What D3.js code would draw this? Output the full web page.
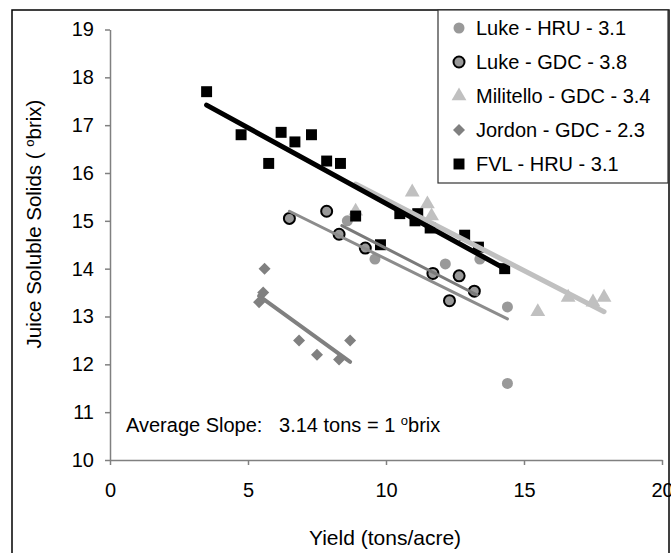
<!DOCTYPE html>
<html>
<head>
<meta charset="utf-8">
<script src="https://cdn.jsdelivr.net/npm/d3@7"></script>
<style>
  body { margin: 0; background: #fff; }
  svg { display: block; font-family: "Liberation Sans", Arial, sans-serif; }
</style>
</head>
<body>
<svg id="chart" width="671" height="553"></svg>
<script>
// series points [yield, brix]
const lukeHRU = [[8.6, 15.0], [9.6, 14.2], [12.15, 14.1], [13.4, 14.2], [14.4, 13.2], [14.4, 11.6]]
const lukeGDC = [[6.5, 15.05], [7.85, 15.2], [8.3, 14.72], [9.25, 14.43], [11.7, 13.9], [12.3, 13.33], [12.65, 13.85], [13.2, 13.53]]
const militello = [[8.9, 15.2], [10.95, 15.6], [11.5, 15.35], [11.65, 15.1], [15.5, 13.1], [16.6, 13.4], [17.5, 13.3], [17.9, 13.4]]
const jordon = [[5.4, 13.3], [5.55, 13.5], [5.6, 14.0], [6.85, 12.5], [7.5, 12.2], [8.3, 12.1], [8.7, 12.5]]
const fvl = [[3.5, 17.7], [4.75, 16.8], [5.75, 16.2], [6.2, 16.85], [6.7, 16.65], [7.3, 16.8], [7.85, 16.25], [8.35, 16.2],
  [8.9, 15.1], [9.8, 14.5], [10.5, 15.15], [11.05, 15.0], [11.15, 15.15], [11.6, 14.85], [12.85, 14.7], [13.35, 14.45], [14.3, 14.0]]

// trendline end points
const lukeHRUTrend = [[6.5, 15.2], [14.4, 12.95]]
const lukeGDCTrend = [[8.4, 14.9], [13.3, 13.45]]
const militelloTrend = [[8.9, 15.77], [17.9, 13.1]]
const jordonTrend = [[5.4, 13.43], [8.7, 12.05]]
const fvlTrend = [[3.5, 17.42], [14.4, 13.97]]

const legendLabels = ['Luke - HRU - 3.1', 'Luke - GDC - 3.8', 'Militello - GDC - 3.4', 'Jordon - GDC - 2.3', 'FVL - HRU - 3.1']
const xTicks = [0, 5, 10, 15, 20]
const yTicks = [10, 11, 12, 13, 14, 15, 16, 17, 18, 19]

let svg = d3.select('#chart')

let x = d3.scaleLinear().domain([0, 20]).range([110, 662])
let y = d3.scaleLinear().domain([10, 19]).range([460, 29.5])

// outer border
svg.append('rect')
  .attr('x', 12).attr('y', 10).attr('width', 657).attr('height', 560)
  .attr('fill', 'none').attr('stroke', '#000').attr('stroke-width', 1.5)

// axes
svg.append('g')
  .attr('transform', 'translate(0,460)')
  .call(d3.axisBottom(x).tickValues(xTicks).tickSize(5).tickSizeOuter(0).tickPadding(18))
svg.append('g')
  .attr('transform', 'translate(110,0)')
  .call(d3.axisLeft(y).tickValues(yTicks).tickSize(5).tickSizeOuter(0).tickPadding(11))

svg.selectAll('.domain, .tick line').attr('stroke', '#808080').attr('stroke-width', 1.5)
svg.selectAll('.tick text').attr('font-size', 20).attr('fill', '#000')
  .attr('font-family', '"Liberation Sans", Arial, sans-serif')

// axis titles
svg.append('text')
  .attr('x', 385).attr('y', 545)
  .attr('text-anchor', 'middle').attr('font-size', 21)
  .text('Yield (tons/acre)')

let yTitle = svg.append('text')
  .attr('transform', 'translate(41,224) rotate(-90)')
  .attr('text-anchor', 'middle').attr('font-size', 20.5)
yTitle.append('tspan').text('Juice Soluble Solids (  ')
yTitle.append('tspan').attr('font-size', 13).attr('dy', -7).text('o')
yTitle.append('tspan').attr('dy', 7).text('brix)')

// annotation
let note = svg.append('text')
  .attr('x', 126).attr('y', 432).attr('font-size', 20)
  .attr('xml:space', 'preserve')
note.append('tspan').text('Average Slope:   3.14 tons = 1 ')
note.append('tspan').attr('font-size', 13).attr('dy', -7).text('o')
note.append('tspan').attr('dy', 7).text('brix')

// marker shapes
const symCircle = d3.symbol().type(d3.symbolCircle).size(95)
const symTriangle = d3.symbol().type(d3.symbolTriangle).size(95)
const symDiamond = d3.symbol().type(d3.symbolSquare).size(72)
const symSquare = d3.symbol().type(d3.symbolSquare).size(120)

const series = [
  { data: lukeHRU, path: symCircle(), fill: '#999999', stroke: 'none', rot: 0 },
  { data: lukeGDC, path: symCircle(), fill: '#999999', stroke: '#000', rot: 0 },
  { data: militello, path: symTriangle(), fill: '#c0c0c0', stroke: 'none', rot: 0 },
  { data: jordon, path: symDiamond(), fill: '#808080', stroke: 'none', rot: 45 },
  { data: fvl, path: symSquare(), fill: '#000', stroke: 'none', rot: 0 }
]

series.forEach(function (s) {
  svg.append('g')
    .selectAll('path')
    .data(s.data)
    .enter()
    .append('path')
    .attr('d', s.path)
    .attr('transform', d => 'translate(' + x(d[0]) + ',' + y(d[1]) + ') rotate(' + s.rot + ')')
    .attr('fill', s.fill)
    .attr('stroke', s.stroke)
    .attr('stroke-width', 2)
})

// trendlines
const trends = [
  { data: lukeHRUTrend, color: '#8c8c8c', w: 3 },
  { data: lukeGDCTrend, color: '#7a7a7a', w: 3 },
  { data: militelloTrend, color: '#c0c0c0', w: 5 },
  { data: jordonTrend, color: '#808080', w: 4 },
  { data: fvlTrend, color: '#000', w: 5 }
]
let line = d3.line().x(d => x(d[0])).y(d => y(d[1]))
trends.forEach(function (t) {
  svg.append('path')
    .attr('d', line(t.data))
    .attr('fill', 'none')
    .attr('stroke', t.color)
    .attr('stroke-width', t.w)
    .attr('stroke-linecap', 'round')
})

// legend
let legend = svg.append('g')
legend.append('rect')
  .attr('x', 438).attr('y', 10).attr('width', 230).attr('height', 173)
  .attr('fill', '#fff').attr('stroke', '#333').attr('stroke-width', 1.2)

let rows = legend.selectAll('g.row')
  .data(series)
  .enter()
  .append('g')
  .attr('class', 'row')
  .attr('transform', (d, i) => 'translate(459,' + (28 + i * 34) + ')')

rows.append('path')
  .attr('d', d => d.path)
  .attr('transform', d => 'rotate(' + d.rot + ')')
  .attr('fill', d => d.fill)
  .attr('stroke', d => d.stroke)
  .attr('stroke-width', 2)

rows.append('text')
  .attr('x', 17).attr('dy', '0.35em')
  .attr('font-size', 20)
  .text((d, i) => legendLabels[i])
</script>
</body>
</html>
